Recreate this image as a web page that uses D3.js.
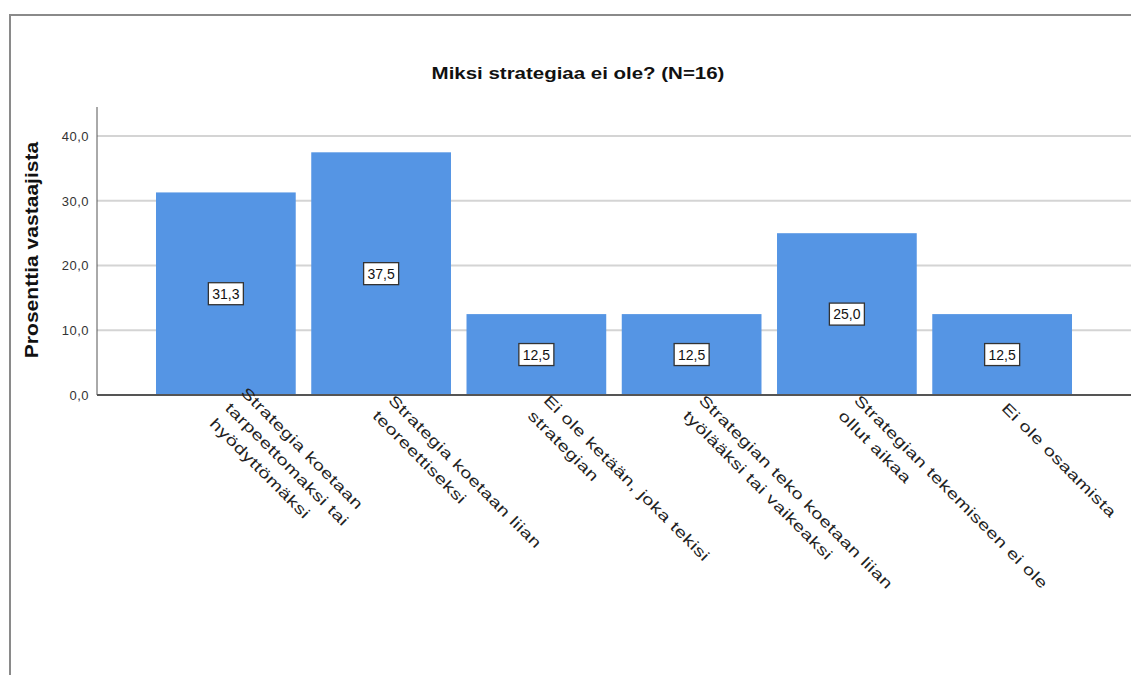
<!DOCTYPE html>
<html>
<head>
<meta charset="utf-8">
<script src="https://cdn.jsdelivr.net/npm/d3@7"></script>
<style>
  body { margin: 0; background: #fff; }
  text { font-family: "Liberation Sans", Arial, sans-serif; }
</style>
</head>
<body>
<div id="chart"></div>
<script>
// Data
var categories = [
  "Strategia koetaan\ntarpeettomaksi tai\nhyödyttömäksi",
  "Strategia koetaan liian\nteoreettiseksi",
  "Ei ole ketään, joka tekisi\nstrategian",
  "Strategian teko koetaan liian\ntyölääksi tai vaikeaksi",
  "Strategian tekemiseen ei ole\nollut aikaa",
  "Ei ole osaamista"
];
var percents = [31.3, 37.5, 12.5, 12.5, 25.0, 12.5];
var yTicks = [0, 10, 20, 30, 40];
var title = "Miksi strategiaa ei ole? (N=16)";
var yTitle = "Prosenttia vastaajista";

var svgWidth = 1131;
var svgHeight = 675;
var plot = { left: 97, right: 1131, top: 107, bottom: 395 };

var svg = d3.select("#chart")
  .append("svg")
  .attr("width", svgWidth)
  .attr("height", svgHeight);

// frame of the output window
svg.append("path")
  .attr("d", "M10,675 V15 H1131")
  .attr("fill", "none")
  .attr("stroke", "#8a8a8a")
  .attr("stroke-width", 2);

// scales
var x = d3.scaleBand()
  .domain(categories)
  .range([plot.left, plot.right])
  .paddingInner(0.1)
  .paddingOuter(0.38);

var y = d3.scaleLinear()
  .domain([0, 44.5])
  .range([plot.bottom, plot.top]);

var fmt = function(v) { return d3.format(".1f")(v).replace(".", ","); };

// gridlines
svg.append("g")
  .selectAll("line")
  .data(yTicks.filter(d => d > 0))
  .enter()
  .append("line")
  .attr("x1", plot.left)
  .attr("x2", plot.right)
  .attr("y1", d => y(d))
  .attr("y2", d => y(d))
  .attr("stroke", "#d4d4d4")
  .attr("stroke-width", 2);

// bars
svg.append("g")
  .selectAll("rect")
  .data(percents)
  .enter()
  .append("rect")
  .attr("x", (d, i) => x(categories[i]))
  .attr("y", d => y(d))
  .attr("width", x.bandwidth())
  .attr("height", d => y(0) - y(d))
  .attr("fill", "#5595e4");

// y axis
var leftAxis = d3.axisLeft(y)
  .tickValues(yTicks)
  .tickSize(0)
  .tickPadding(8)
  .tickFormat(fmt);

var yAxisG = svg.append("g")
  .attr("transform", `translate(${plot.left},0)`)
  .call(leftAxis);
yAxisG.select(".domain").attr("stroke", "#555").attr("d", `M0,${plot.top}V${plot.bottom}`);
yAxisG.selectAll("text")
  .attr("font-size", "13px")
  .attr("font-family", "Liberation Sans, Arial, sans-serif")
  .attr("letter-spacing", "0.5px")
  .attr("fill", "#333");

// baseline
svg.append("line")
  .attr("x1", plot.left)
  .attr("x2", plot.right)
  .attr("y1", y(0))
  .attr("y2", y(0))
  .attr("stroke", "#555")
  .attr("stroke-width", 2);

// value labels in boxes
var labels = svg.append("g")
  .selectAll("g")
  .data(percents)
  .enter()
  .append("g")
  .attr("transform", (d, i) => `translate(${x(categories[i]) + x.bandwidth() / 2},${y(d / 2)})`);

labels.append("rect")
  .attr("x", -17.5)
  .attr("y", -11)
  .attr("width", 35)
  .attr("height", 22)
  .attr("fill", "#fff")
  .attr("stroke", "#333")
  .attr("stroke-width", 1.3);

labels.append("text")
  .attr("text-anchor", "middle")
  .attr("dy", "0.36em")
  .attr("font-size", "14px")
  .attr("fill", "#111")
  .text(d => fmt(d));

// rotated category labels (glyphs drawn wide like the SPSS output)
var lineH = 22;
var catLabels = svg.append("g")
  .selectAll("text")
  .data(categories)
  .enter()
  .append("text")
  .attr("transform", d => `translate(${x(d) + x.bandwidth() / 2 - 1.5},${y(0) + 14}) rotate(45) scale(1.35,1)`)
  .attr("font-size", "15px")
  .attr("letter-spacing", "0.3px")
  .attr("fill", "#222");

catLabels.each(function(d) {
  var lines = d.split("\n");
  var t = d3.select(this);
  lines.forEach(function(line, i) {
    t.append("tspan")
      .attr("x", 0)
      .attr("y", (i - (lines.length - 1) / 2) * lineH)
      .text(line);
  });
});

// title
svg.append("text")
  .attr("transform", "translate(578,79) scale(1.28,1)")
  .attr("text-anchor", "middle")
  .attr("font-size", "16px")
  .attr("font-weight", "bold")
  .attr("fill", "#111")
  .text(title);

// y axis title
svg.append("text")
  .attr("transform", "translate(38,250) rotate(-90) scale(1.17,1)")
  .attr("text-anchor", "middle")
  .attr("font-size", "18px")
  .attr("font-weight", "bold")
  .attr("fill", "#111")
  .text(yTitle);
</script>
</body>
</html>
